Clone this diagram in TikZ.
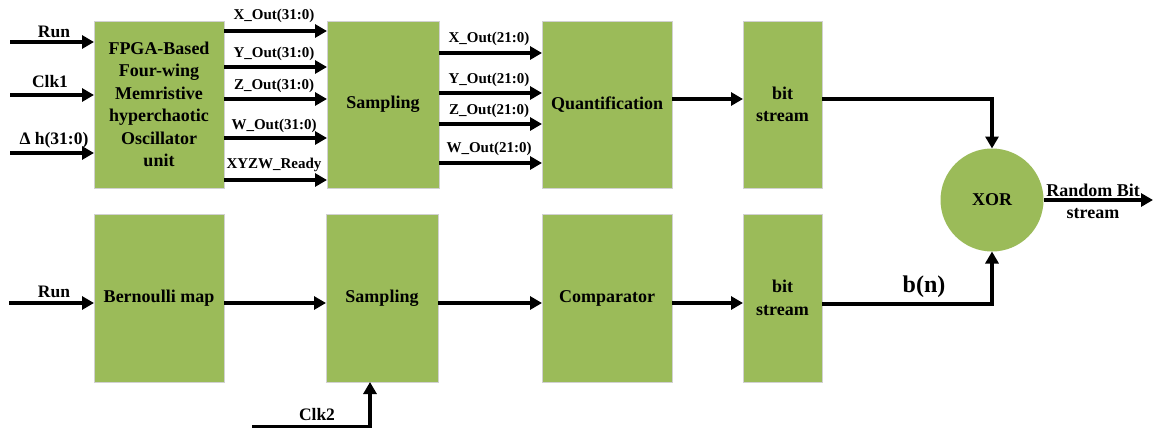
\documentclass[tikz,border=0pt]{standalone}
\usepackage{fontspec}
\setmainfont{Liberation Serif}
\usetikzlibrary{arrows.meta,calc}
\definecolor{boxgreen}{HTML}{9BBB59}
\begin{document}
\begin{tikzpicture}[x=1pt,y=-1pt,
  blk/.style={draw=black!18, line width=0.8pt, fill=boxgreen, inner sep=0pt, outer sep=0pt,
    align=center, font=\fontsize{18}{22.5}\selectfont\bfseries},
  arr/.style={line width=4.6pt, line join=miter, -{Triangle[length=12pt,width=13pt]}},
  sig/.style={font=\fontsize{15}{18}\selectfont\bfseries, inner sep=0pt},
  inlbl/.style={font=\fontsize{17.5}{21}\selectfont\bfseries, inner sep=0pt},
  biglbl/.style={font=\fontsize{24}{28}\selectfont\bfseries, inner sep=0pt},
  outlbl/.style={font=\fontsize{18}{22}\selectfont\bfseries, inner sep=0pt, align=center}
]
\useasboundingbox (0,0) rectangle (1153,428);

% ---- top row blocks
\node[blk, minimum width=130pt, minimum height=167pt] (fpga) at (159,104.5)
  {FPGA-Based\\Four-wing\\Memristive\\hyperchaotic\\Oscillator\\unit};
\node[blk, minimum width=112pt, minimum height=167pt] (samp1) at (383,104.5) {Sampling};
\node[blk, minimum width=130pt, minimum height=167pt] (quant) at (607,104.5) {Quantification};
\node[blk, minimum width=79pt, minimum height=167pt] (bit1) at (782.5,104.5) {bit\\stream};

% ---- bottom row blocks
\node[blk, minimum width=130pt, minimum height=168pt] (bern) at (159,298) {Bernoulli map};
\node[blk, minimum width=112pt, minimum height=168pt] (samp2) at (382,298) {Sampling};
\node[blk, minimum width=130pt, minimum height=168pt] (comp) at (607,298) {Comparator};
\node[blk, minimum width=79pt, minimum height=168pt] (bit2) at (782.5,298) {bit\\stream};

% ---- XOR
\node[blk, circle, draw=none, minimum size=103pt] (xor) at (992,200) {XOR};

% ---- helper coordinates
\coordinate (inRun) at (10,42);
\coordinate (inClk) at (10,95);
\coordinate (inDh) at (10,153);
\coordinate (a1) at (0,31);
\coordinate (a2) at (0,67);
\coordinate (a3) at (0,99);
\coordinate (a4) at (0,138);
\coordinate (a5) at (0,180);
\coordinate (b1) at (0,53);
\coordinate (b2) at (0,93);
\coordinate (b3) at (0,124);
\coordinate (b4) at (0,163);
\coordinate (qy) at (0,99);
\coordinate (low) at (0,303);
\coordinate (bn) at (0,304);
\coordinate (inRun2) at (9,303);
\coordinate (clkA) at (252,427);
\coordinate (out) at (1153,200);

% ---- inputs
\draw[arr] (inRun) -- (inRun -| fpga.west);
\draw[arr] (inClk) -- (inClk -| fpga.west);
\draw[arr] (inDh) -- (inDh -| fpga.west);
\node[inlbl] (lrun) at (54,32) {Run};
\node[inlbl] (lclk) at (50,82) {Clk1};
\node[inlbl] (ldh) at (54,140) {Δ h(31:0)};

% ---- FPGA -> Sampling
\draw[arr] (fpga.east |- a1) -- (samp1.west |- a1);
\draw[arr] (fpga.east |- a2) -- (samp1.west |- a2);
\draw[arr] (fpga.east |- a3) -- (samp1.west |- a3);
\draw[arr] (fpga.east |- a4) -- (samp1.west |- a4);
\draw[arr] (fpga.east |- a5) -- (samp1.west |- a5);
\node[sig] (lx1) at (274,15.5) {X\_Out(31:0)};
\node[sig] (ly1) at (274,54) {Y\_Out(31:0)};
\node[sig] (lz1) at (274,86) {Z\_Out(31:0)};
\node[sig] (lw1) at (274,126) {W\_Out(31:0)};
\node[sig] (lr1) at (274,165) {XYZW\_Ready};

% ---- Sampling -> Quantification
\draw[arr] (samp1.east |- b1) -- (quant.west |- b1);
\draw[arr] (samp1.east |- b2) -- (quant.west |- b2);
\draw[arr] (samp1.east |- b3) -- (quant.west |- b3);
\draw[arr] (samp1.east |- b4) -- (quant.west |- b4);
\node[sig] (lx2) at (489,39) {X\_Out(21:0)};
\node[sig] (ly2) at (489,80) {Y\_Out(21:0)};
\node[sig] (lz2) at (489,111) {Z\_Out(21:0)};
\node[sig] (lw2) at (489,149) {W\_Out(21:0)};

% ---- Quantification -> bit stream -> XOR
\draw[arr] (quant.east |- qy) -- (bit1.west |- qy);
\draw[arr] (bit1.east |- qy) -| (xor.north);

% ---- bottom chain
\draw[arr] (inRun2) -- (inRun2 -| bern.west);
\node[inlbl] (lrun2) at (54,292) {Run};
\draw[arr] (bern.east |- low) -- (samp2.west |- low);
\draw[arr] (samp2.east |- low) -- (comp.west |- low);
\draw[arr] (comp.east |- low) -- (bit2.west |- low);
\draw[arr] (bit2.east |- bn) -| (xor.south);
\node[biglbl] (lbn) at (924,287) {b(n)};
\draw[arr] (clkA) -| (samp2.south -| 370,0);
\node[inlbl] (lclk2) at (317,415) {Clk2};

% ---- output
\draw[arr] (xor.east) -- (out);
\node[outlbl] (lout) at (1093,201) {Random Bit\\stream};
\end{tikzpicture}
\end{document}
